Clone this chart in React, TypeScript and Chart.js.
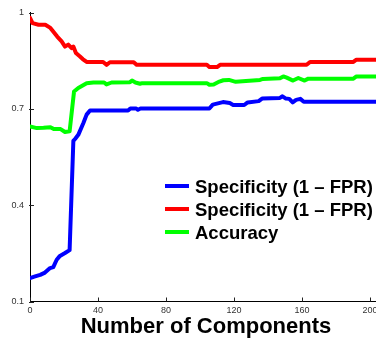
import { useEffect, useRef } from 'react';
import { Chart, registerables } from 'chart.js';

Chart.register(...registerables);

const FONT = '"Liberation Sans", Arial, Helvetica, sans-serif';

const seriesLabels = ['Specificity (1 – FPR)', 'Specificity (1 – FPR)', 'Accuracy'];
const seriesColors = ['#0000ff', '#ff0000', '#00ff00'];

const blueX = [0, 3, 6, 8.8, 11.8, 13.7, 15.7, 17.6, 20.6, 23.3, 25.5, 26.5, 28.4, 31.4, 33.3, 35.3, 57.7, 59, 62.5, 63.5, 65, 105.5, 107.5, 113.5, 117.5, 119.5, 126, 128, 134.5, 136.5, 147, 148.5, 150.5, 152.5, 154.5, 156.5, 159, 161, 203.5];
const blueY = [0.173, 0.178, 0.183, 0.19, 0.204, 0.207, 0.23, 0.242, 0.251, 0.26, 0.6, 0.606, 0.619, 0.656, 0.682, 0.695, 0.695, 0.701, 0.701, 0.697, 0.701, 0.701, 0.713, 0.721, 0.718, 0.712, 0.712, 0.72, 0.724, 0.732, 0.734, 0.739, 0.732, 0.731, 0.72, 0.728, 0.731, 0.722, 0.722];

const redX = [0, 1.5, 5, 9, 12, 16, 18.6, 20.6, 22.5, 24.5, 25.5, 27, 29.4, 31, 33.3, 43, 45, 47, 61, 62.7, 104, 105.5, 110, 111.8, 162.7, 164.7, 190.2, 192, 203.5];
const redY = [0.983, 0.967, 0.962, 0.962, 0.952, 0.925, 0.91, 0.894, 0.9, 0.889, 0.894, 0.874, 0.863, 0.855, 0.846, 0.846, 0.837, 0.845, 0.845, 0.837, 0.837, 0.83, 0.83, 0.837, 0.837, 0.846, 0.846, 0.853, 0.853];

const greenX = [0, 4, 8, 12, 14, 18, 20.6, 23.3, 25.9, 28.4, 33.3, 37.3, 43.6, 45, 48, 58.8, 60, 62, 64.7, 66, 104, 105.5, 108, 111.4, 113.7, 117, 121, 127, 135.3, 137, 147, 149, 151, 154.7, 157.8, 161.5, 163.7, 190.2, 192, 203.5];
const greenY = [0.645, 0.64, 0.641, 0.643, 0.637, 0.637, 0.628, 0.63, 0.754, 0.765, 0.78, 0.782, 0.782, 0.776, 0.782, 0.783, 0.788, 0.782, 0.778, 0.78, 0.78, 0.775, 0.776, 0.785, 0.789, 0.79, 0.784, 0.787, 0.79, 0.793, 0.795, 0.801, 0.797, 0.788, 0.796, 0.788, 0.794, 0.794, 0.801, 0.801];

const xTicks = [0, 40, 80, 120, 160, 200];
const xTickLabels = ['0', '40', '80', '120', '160', '200'];
const yTicks = [0.1, 0.4, 0.7, 1];
const yTickLabels = ['0.1', '0.4', '0.7', '1'];
const xTitle = 'Number of Components';

const toPoints = (xs: number[], ys: number[]) => xs.map((x, i) => ({ x, y: ys[i] }));

const inwardTicks = {
  id: 'inwardTicks',
  afterDraw(chart: any) {
    const { ctx, chartArea, scales } = chart;
    ctx.save();
    ctx.strokeStyle = '#222';
    ctx.lineWidth = 1;
    ctx.beginPath();
    for (const v of xTicks) {
      const px = Math.round(scales.x.getPixelForValue(v)) + 0.5;
      ctx.moveTo(px, chartArea.bottom);
      ctx.lineTo(px, chartArea.bottom - 4);
    }
    for (const v of yTicks) {
      const py = Math.round(scales.y.getPixelForValue(v)) + 0.5;
      ctx.moveTo(chartArea.left - 1, py);
      ctx.lineTo(chartArea.left + 4, py);
    }
    ctx.stroke();
    ctx.restore();
  },
};

const titleAndLegend = {
  id: 'titleAndLegend',
  afterDraw(chart: any) {
    const { ctx, chartArea } = chart;
    ctx.save();
    ctx.fillStyle = '#000';
    ctx.font = `bold 22px ${FONT}`;
    ctx.textAlign = 'center';
    ctx.textBaseline = 'middle';
    ctx.fillText(xTitle, chartArea.left + 176, chartArea.bottom + 25.5);
    ctx.font = `bold 18.5px ${FONT}`;
    ctx.textAlign = 'left';
    const datasets = chart.data.datasets;
    datasets.forEach((ds: any, i: number) => {
      const y = chartArea.top + 173.5 + i * 23;
      ctx.strokeStyle = ds.borderColor;
      ctx.lineWidth = 4;
      ctx.beginPath();
      ctx.moveTo(chartArea.left + 135, y);
      ctx.lineTo(chartArea.left + 159, y);
      ctx.stroke();
      ctx.fillStyle = '#000';
      ctx.fillText(ds.label, chartArea.left + 165, y + 2);
    });
    ctx.restore();
  },
};

export default function App() {
  const ref = useRef<HTMLCanvasElement | null>(null);
  useEffect(() => {
    if (!ref.current) return;
    const chart = new Chart(ref.current, {
      type: 'line',
      data: {
        datasets: [
          { label: seriesLabels[0], data: toPoints(blueX, blueY), borderColor: seriesColors[0] },
          { label: seriesLabels[1], data: toPoints(redX, redY), borderColor: seriesColors[1] },
          { label: seriesLabels[2], data: toPoints(greenX, greenY), borderColor: seriesColors[2] },
        ].map((d) => ({
          ...d,
          borderWidth: 4,
          pointRadius: 0,
          tension: 0,
          fill: false,
          borderJoinStyle: 'round' as const,
          borderCapStyle: 'round' as const,
        })),
      },
      options: {
        responsive: false,
        animation: false,
        devicePixelRatio: 1,
        layout: { padding: { left: 0, right: 14, top: 12.5, bottom: 0 } },
        plugins: { legend: { display: false }, tooltip: { enabled: false } },
        scales: {
          x: {
            type: 'linear',
            min: 0,
            max: 203.5,
            grid: { display: false, drawTicks: false },
            border: { display: true, color: '#000', width: 1 },
            afterBuildTicks: (s: any) => {
              s.ticks = xTicks.map((value) => ({ value }));
            },
            afterFit: (s: any) => {
              s.height = 36.5;
            },
            ticks: {
              padding: 4,
              color: '#333',
              font: { family: FONT, size: 9 },
              maxRotation: 0,
              autoSkip: false,
              callback: (v: any) => xTickLabels[xTicks.indexOf(Number(v))] ?? '',
            },
          },
          y: {
            type: 'linear',
            min: 0.1,
            max: 1,
            grid: { display: false, drawTicks: false },
            border: { display: true, color: '#000', width: 1 },
            afterBuildTicks: (s: any) => {
              s.ticks = yTicks.map((value) => ({ value }));
            },
            afterFit: (s: any) => {
              s.width = 30;
            },
            ticks: {
              padding: 6,
              color: '#333',
              font: { family: FONT, size: 9 },
              autoSkip: false,
              callback: (v: any) => yTickLabels[yTicks.indexOf(Number(v))] ?? '',
            },
          },
        },
      },
      plugins: [inwardTicks, titleAndLegend],
    });
    return () => chart.destroy();
  }, []);
  return (
    <div style={{ position: 'fixed', left: 0, top: 0, width: 376, height: 338, overflow: 'hidden', background: '#fff' }}>
      <canvas ref={ref} width={390} height={338} style={{ width: 390, height: 338, display: 'block' }} />
    </div>
  );
}
